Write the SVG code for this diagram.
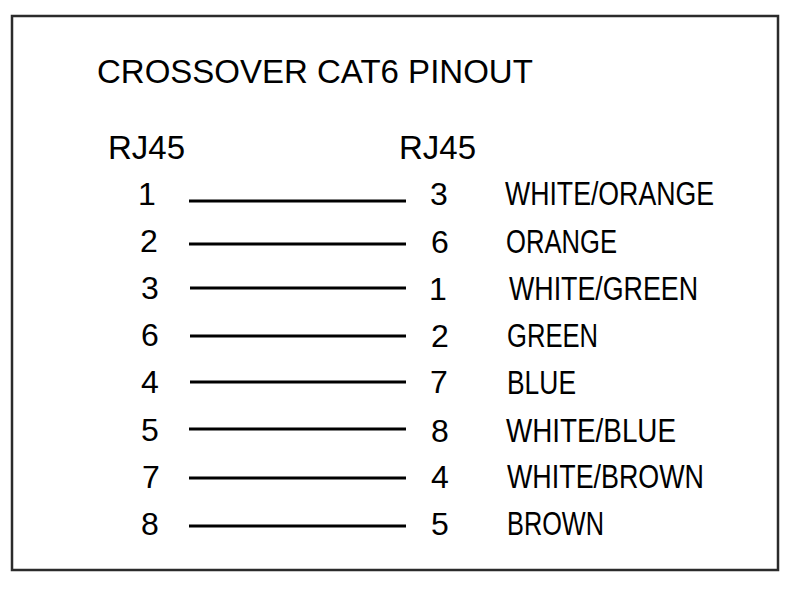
<svg xmlns="http://www.w3.org/2000/svg" width="795" height="590" viewBox="0 0 795 590">
  <style>
    .frame { fill: #ffffff; stroke: #2b2b2b; stroke-width: 2.5; }
    .title { font-family: "Liberation Sans", Arial, sans-serif; font-size: 33px; fill: #000; }
    .pin { font-family: "Liberation Sans", Arial, sans-serif; font-size: 32px; fill: #000; text-anchor: middle; }
    .color { font-family: "Liberation Sans", Arial, sans-serif; font-size: 34px; fill: #000; }
    .wire { stroke: #000; stroke-width: 3; fill: none; }
  </style>
  <rect x="0" y="0" width="795" height="590" fill="#ffffff"/>
  <rect class="frame" x="12" y="16" width="766" height="554"/>

  <g id="title"><text class="title" x="97" y="83">CROSSOVER CAT6 PINOUT</text></g>
  <g id="header-left"><text class="title" x="108" y="159">RJ45</text></g>
  <g id="header-right"><text class="title" x="399" y="159">RJ45</text></g>

  <g id="connectors">
    <line class="wire" x1="189" y1="201" x2="406" y2="201"/>
    <line class="wire" x1="189" y1="244" x2="406" y2="244"/>
    <line class="wire" x1="190" y1="288" x2="406" y2="288"/>
    <line class="wire" x1="190" y1="336" x2="406" y2="336"/>
    <line class="wire" x1="190" y1="382" x2="406" y2="382"/>
    <line class="wire" x1="189" y1="429" x2="406" y2="429"/>
    <line class="wire" x1="189" y1="478" x2="406" y2="478"/>
    <line class="wire" x1="189" y1="526" x2="406" y2="526"/>
  </g>

  <g id="left-pin-1"><text class="pin" x="147" y="205">1</text></g>
  <g id="left-pin-2"><text class="pin" x="149" y="252">2</text></g>
  <g id="left-pin-3"><text class="pin" x="150" y="299">3</text></g>
  <g id="left-pin-6"><text class="pin" x="150" y="346">6</text></g>
  <g id="left-pin-4"><text class="pin" x="150" y="393">4</text></g>
  <g id="left-pin-5"><text class="pin" x="150" y="441">5</text></g>
  <g id="left-pin-7"><text class="pin" x="151" y="488">7</text></g>
  <g id="left-pin-8"><text class="pin" x="150" y="535">8</text></g>

  <g id="right-pin-3"><text class="pin" x="439" y="205">3</text></g>
  <g id="right-pin-6"><text class="pin" x="440" y="253">6</text></g>
  <g id="right-pin-1"><text class="pin" x="438" y="300">1</text></g>
  <g id="right-pin-2"><text class="pin" x="440" y="347">2</text></g>
  <g id="right-pin-7"><text class="pin" x="439" y="393">7</text></g>
  <g id="right-pin-8"><text class="pin" x="440" y="442">8</text></g>
  <g id="right-pin-4"><text class="pin" x="440" y="488">4</text></g>
  <g id="right-pin-5"><text class="pin" x="440" y="535">5</text></g>

  <g id="label-white-orange"><text class="color" x="505" y="205" textLength="209" lengthAdjust="spacingAndGlyphs">WHITE/ORANGE</text></g>
  <g id="label-orange"><text class="color" x="506" y="253" textLength="111" lengthAdjust="spacingAndGlyphs">ORANGE</text></g>
  <g id="label-white-green"><text class="color" x="509" y="300" textLength="189" lengthAdjust="spacingAndGlyphs">WHITE/GREEN</text></g>
  <g id="label-green"><text class="color" x="507" y="347" textLength="91" lengthAdjust="spacingAndGlyphs">GREEN</text></g>
  <g id="label-blue"><text class="color" x="507" y="394" textLength="69" lengthAdjust="spacingAndGlyphs">BLUE</text></g>
  <g id="label-white-blue"><text class="color" x="506" y="442" textLength="170" lengthAdjust="spacingAndGlyphs">WHITE/BLUE</text></g>
  <g id="label-white-brown"><text class="color" x="507" y="488" textLength="197" lengthAdjust="spacingAndGlyphs">WHITE/BROWN</text></g>
  <g id="label-brown"><text class="color" x="507" y="535" textLength="97" lengthAdjust="spacingAndGlyphs">BROWN</text></g>
</svg>
